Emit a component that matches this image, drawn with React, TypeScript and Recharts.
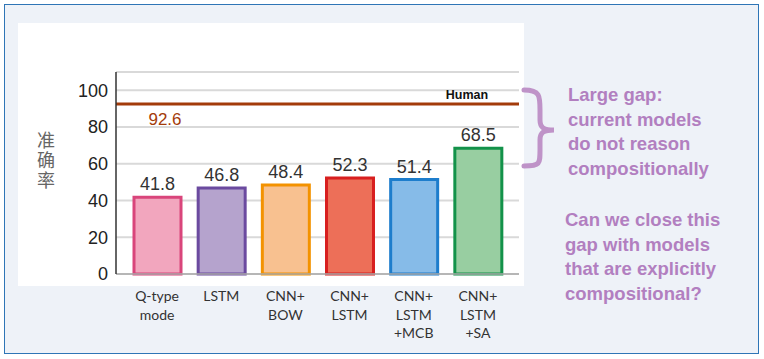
import React from 'react'
import { BarChart, Bar, Cell, XAxis, YAxis, CartesianGrid, ReferenceLine, LabelList } from 'recharts'

const MODELS = ['Q-type\nmode', 'LSTM', 'CNN+\nBOW', 'CNN+\nLSTM', 'CNN+\nLSTM\n+MCB', 'CNN+\nLSTM\n+SA']
const SCORES = [41.8, 46.8, 48.4, 52.3, 51.4, 68.5]
const HUMAN = 92.6
const Y_TICKS = [0, 20, 40, 60, 80, 100]
const Y_LABEL = '准确率'
const GAP_NOTE = ['Large gap:', 'current models', 'do not reason', 'compositionally']
const QUESTION = ['Can we close this', 'gap with models', 'that are explicitly', 'compositional?']

const FILLS = ['#f2a6be', '#b5a3cd', '#f8c190', '#ed6f58', '#86bbe8', '#98cea1']
const STROKES = ['#d9457b', '#6b4a9f', '#f39200', '#d81f1f', '#1d7dcc', '#13924a']

const data = MODELS.map((name, i) => ({ name, score: SCORES[i] }))

const SANS = '"Liberation Sans", Arial, sans-serif'
const PURPLE = '#b27fc0'

function ModelTick({ x, y, payload }: any) {
  const lines = String(payload.value).split('\n')
  return (
    <text x={x} y={y} textAnchor="middle" fontFamily="Lato, sans-serif" fontSize={14} fill="#333">
      {lines.map((l, i) => (
        <tspan key={i} x={x} dy={i === 0 ? 21 : 18.5}>{l}</tspan>
      ))}
    </text>
  )
}

function HumanLabel({ viewBox }: any) {
  const { x, y, width } = viewBox
  return (
    <g>
      <text x={x + 49} y={y + 21} textAnchor="middle" fontFamily={SANS} fontSize={17} fill="#a33b0a">{HUMAN}</text>
      <text x={x + width - 52} y={y - 5} textAnchor="middle" fontFamily={SANS} fontSize={12.5} fontWeight="bold" fill="#111">Human</text>
    </g>
  )
}

function YTitle() {
  return (
    <text x={46} y={131} fontFamily='"Noto Sans CJK SC", sans-serif' fontSize={18} fill="#666"
      style={{ writingMode: 'vertical-rl', letterSpacing: 2 }}>
      {Y_LABEL}
    </text>
  )
}

export default function App() {
  return (
    <div style={{ position: 'absolute', left: 0, top: 0, width: 764, height: 359, background: '#fff' }}>
      <div style={{ position: 'absolute', left: 4, top: 4, width: 753, height: 348, background: '#eef2f8', border: '1.5px solid #2e75b6' }} />
      <div style={{ position: 'absolute', left: 18, top: 23, width: 506, height: 263, background: '#fff' }} />
      <div style={{ position: 'absolute', left: 0, top: 0 }}>
        <BarChart width={764} height={359} data={data} margin={{ top: 72, right: 245, left: 56, bottom: 0 }}>
          <CartesianGrid vertical={false} stroke="#d9d9d9" strokeWidth={2} />
          <XAxis dataKey="name" interval={0} height={85} padding={{ left: 9, right: 9 }} tickLine={false} tickMargin={0}
            tick={<ModelTick />} axisLine={{ stroke: '#aaa', strokeWidth: 1.5 }} />
          <XAxis xAxisId="top" orientation="top" dataKey="name" height={0} tick={false} tickLine={false}
            axisLine={{ stroke: '#333', strokeWidth: 1.5 }} />
          <YAxis domain={[0, 110]} ticks={Y_TICKS} width={60} tickSize={0} tickMargin={8} interval={0}
            tick={{ fontFamily: SANS, fontSize: 18, fill: '#222' }} axisLine={{ stroke: '#333', strokeWidth: 1.5 }}
            label={{ content: <YTitle /> }} />
          <YAxis yAxisId="right" orientation="right" domain={[0, 110]} ticks={Y_TICKS} width={0} tick={false}
            tickLine={false} axisLine={{ stroke: '#333', strokeWidth: 1.5 }} />
          <ReferenceLine y={HUMAN} stroke="#a33b0a" strokeWidth={3} label={<HumanLabel />} />
          <Bar dataKey="score" barSize={47} strokeWidth={3} isAnimationActive={false}>
            {data.map((d, i) => (
              <Cell key={d.name} fill={FILLS[i]} stroke={STROKES[i]} />
            ))}
            <LabelList dataKey="score" position="top" offset={7} style={{ fontFamily: SANS, fontSize: 18, fill: '#333' }} />
          </Bar>
        </BarChart>
      </div>
      <svg style={{ position: 'absolute', left: 518, top: 86 }} width={44} height={84}>
        <path d="M6 4 C 22 4, 22 10, 22 24 L 22 34 C 22 42, 26 44, 36 44 C 26 44, 22 46, 22 54 L 22 64 C 22 78, 22 80, 6 80"
          fill="none" stroke="#bf93c8" strokeWidth={5} strokeLinecap="round" />
      </svg>
      <div style={{ position: 'absolute', left: 568, top: 83, fontFamily: SANS, fontWeight: 'bold', fontSize: 18.5, lineHeight: '24.5px', color: PURPLE, whiteSpace: 'nowrap' }}>
        {GAP_NOTE.map((l, i) => <div key={i}>{l}</div>)}
      </div>
      <div style={{ position: 'absolute', left: 565, top: 208, fontFamily: SANS, fontWeight: 'bold', fontSize: 18.5, lineHeight: '24.5px', color: PURPLE, whiteSpace: 'nowrap' }}>
        {QUESTION.map((l, i) => <div key={i}>{l}</div>)}
      </div>
    </div>
  )
}
